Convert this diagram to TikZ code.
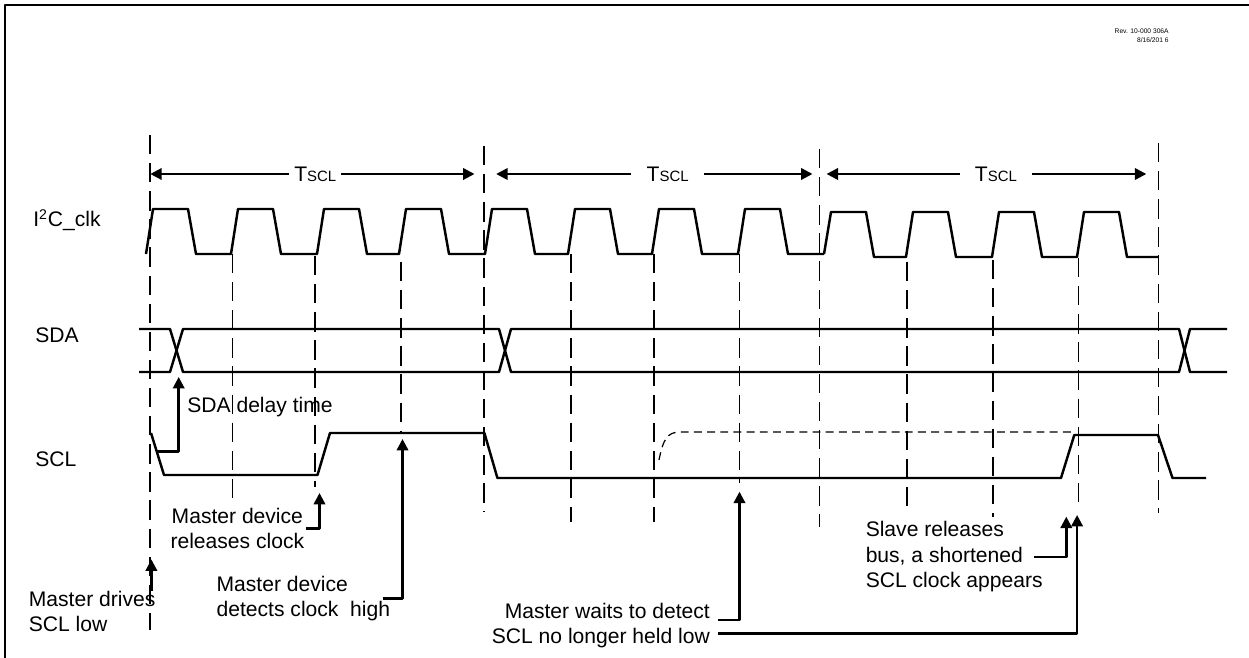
\documentclass[tikz,border=0pt]{standalone}
\usepackage{fontspec}
\setmainfont{Liberation Sans}
\usetikzlibrary{arrows.meta}
\begin{document}
\begin{tikzpicture}[x=0.02cm, y=-0.02cm, line join=round, >={Triangle[length=6.5pt,width=6.5pt]},
	font=\fontsize{12}{14.5}\selectfont,
	wave/.style={line width=1.4pt},
	grid/.style={line width=0.8pt, dash pattern=on 11pt off 5pt},
	float/.style={line width=0.7pt, dash pattern=on 4.5pt off 3pt},
	callout/.style={->, line width=1.4pt},
	lbl/.style={inner sep=0pt},
	tlbl/.style={inner ysep=0pt}]
		\useasboundingbox (0,0) rectangle (1249,658);
		\draw[line width=1.3pt] (5,658) -- (5,5) -- (1249,5);
		\node[lbl, align=right, anchor=east, font=\fontsize{3.8}{5.1}\selectfont] (rev) at (1169,35.5) {Rev. 10-000 306A\\8/16/201 6};
		% signal names
		\node[lbl, anchor=base west] (clk) at (33,227) {I\textsuperscript{2}C\_clk};
		\node[lbl, anchor=base west] (sda) at (35,343) {SDA};
		\node[lbl, anchor=base west] (scl) at (35,467) {SCL};
		% dashed time marks
		\foreach \x/\ya/\yb in {150/135/630, 484/146/512, 819.5/149/527, 1158.3/143/513, 232.5/254/502, 315/256/487, 401/262/432, 571/254/522, 654/254/522, 739.5/254/483, 907/262/513, 993/260/517, 1078.5/258/505}
			\draw[grid] (\x,\ya) -- (\x,\yb);
		% Tscl periods
		\foreach \i/\a/\m/\b/\s in {1/150.3/315.3/474.5/2.7, 2/496.2/667.7/812.5/8.7, 3/826.6/995.9/1146.3/8.5}{
			\coordinate (tl\i) at (\a,174);
			\coordinate (tr\i) at (\b,174);
			\node[tlbl, inner xsep=\s pt] (ts\i) at (\m,174) {T{\fontsize{8.5}{9}\selectfont SCL}};
			\draw[->, line width=1.3pt] (ts\i) -- (tl\i);
			\draw[->, line width=1.3pt] (ts\i) -- (tr\i);
		}
		% I2C_clk
		\draw[wave] (146,254) foreach \r/\n in {146/231,231/317,317/399,399/485,485/568,568/652,652/738,738/824}
			{ -- (\r+7,209) -- (\r+42,209) -- (\r+50,254) -- (\n,254) };
		\draw[wave] (824,254) foreach \r/\n in {824/906,906/992,992/1077,1077/1158}
			{ -- (\r+7,212) -- (\r+42,212) -- (\r+50,257) -- (\n,257) };
		% SDA
		\draw[wave] (139,329) -- (170,329) -- (183,372) -- (499,372) -- (511,329) -- (1179,329) -- (1190,372) -- (1227,372);
		\draw[wave] (139,372) -- (170,372) -- (183,329) -- (499,329) -- (511,372) -- (1179,372) -- (1190,329) -- (1227,329);
		% SCL
		\draw[wave] (151,433) -- (164,475) -- (317.5,475) -- (330,433) -- (484.4,433) -- (497.4,478) -- (1061,478) -- (1074.3,435) -- (1158,435) -- (1172.5,478) -- (1206,478);
		\draw[float] (659,460) .. controls (663,440) and (667,432) .. (680,432) -- (1073,432);
		% callouts
		\coordinate (sdaFrom) at (157,451.7);
		\coordinate (sdaTip) at (178.7,377);
		\draw[callout] (sdaFrom) -| (sdaTip);
		\node[lbl, anchor=base west] (delay) at (187,413) {SDA delay time};
		\node[lbl, align=center, anchor=east] (relclk) at (304.5,528.3) {Master device\\releases clock};
		\coordinate (relTip) at (319.5,493);
		\draw[callout] ([xshift=1pt]relclk.east) -| (relTip);
		\node[lbl, align=left, anchor=west] (drives) at (28.5,611.4) {Master drives\\SCL low};
		\coordinate (drvTip) at (151.4,559.5);
		\draw[callout] (drives.north -| drvTip) -- (drvTip);
		\node[lbl, align=left, anchor=west] (detect) at (216.3,598.7) {Master device\\detects clock~~high};
		\coordinate (detTip) at (402.5,439);
		\draw[callout] ([xshift=-4pt]detect.east) -| (detTip);
		\node[lbl, align=right, anchor=east] (waits) at (710.2,625.5) {Master waits to detect\\SCL no longer held low};
		\coordinate (waitTipA) at (739.5,491.7);
		\coordinate (waitTipB) at (1077.1,515);
		\draw[callout] ([shift={(8,-5.5)}]waits.east) -| (waitTipA);
		\draw[callout] ([shift={(8,7.8)}]waits.east) -| (waitTipB);
		\node[lbl, align=left, anchor=west] (slave) at (865.4,557) {Slave releases\\bus, a shortened\\SCL clock appears};
		\coordinate (slvTip) at (1066.3,516.7);
		\draw[callout] ([xshift=-5pt]slave.east) -| (slvTip);
\end{tikzpicture}
\end{document}
